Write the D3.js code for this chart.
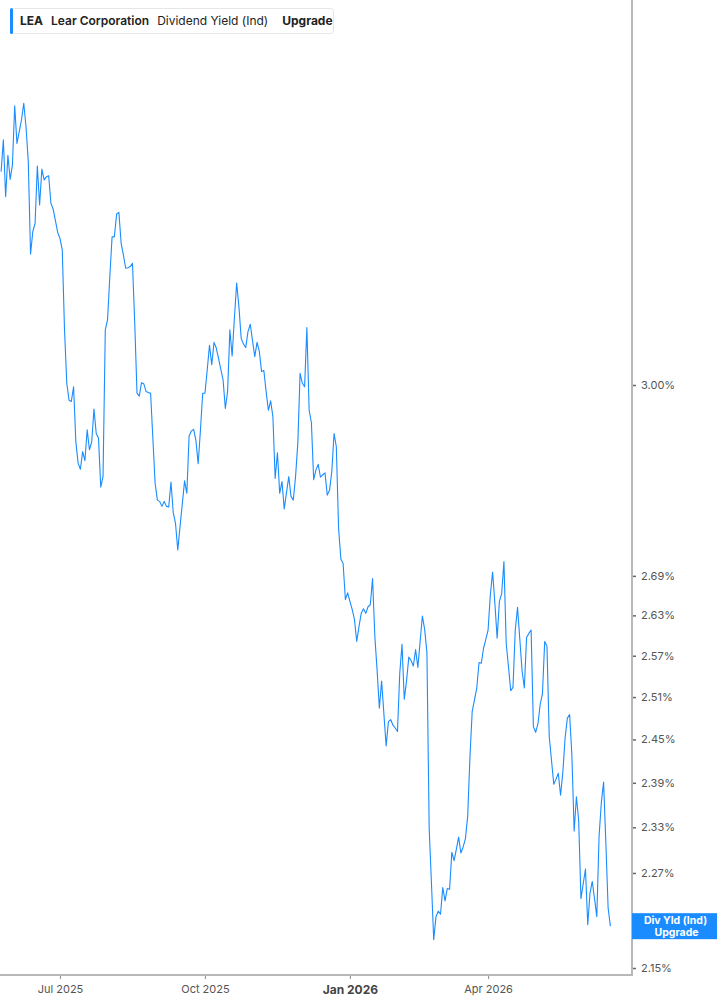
<!DOCTYPE html>
<html lang="en">
  <head>
    <meta charset="UTF-8" />
    <title>LEA Dividend Yield (Ind)</title>
    <script src="https://cdn.jsdelivr.net/npm/d3@7"></script>
    <style>
      html,
      body {
        margin: 0;
        background: #ffffff;
      }
      #chart {
        width: 717px;
        height: 1005px;
      }
      text {
        font-family: Inter, "Noto Sans", sans-serif;
      }
    </style>
  </head>
  <body>
    <div id="chart"></div>
    <script>
      // first trading day shown, and the market holidays skipped in the calendar
      const startDate = "2025-05-22";
      const holidays = [
        "2025-05-26", "2025-06-19", "2025-07-04", "2025-09-01", "2025-11-27",
        "2025-12-25", "2026-01-01", "2026-01-19", "2026-02-16", "2026-04-03",
        "2026-05-25", "2026-06-19",
      ];

      // dividend yield (%), one value per trading day
      const yieldValues = [
        3.389, 3.451, 3.341, 3.421, 3.374, 3.402, 3.519, 3.444, 3.467, 3.491,
        3.524, 3.477, 3.408, 3.233, 3.275, 3.290, 3.400, 3.325, 3.394, 3.373,
        3.379, 3.381, 3.328, 3.317, 3.295, 3.273, 3.262, 3.241, 3.096, 3.003,
        2.974, 2.972, 2.997, 2.904, 2.869, 2.859, 2.888, 2.873, 2.924, 2.891,
        2.904, 2.959, 2.918, 2.910, 2.830, 2.847, 3.096, 3.114, 3.192, 3.265,
        3.265, 3.308, 3.311, 3.253, 3.231, 3.207, 3.208, 3.210, 3.216, 3.108,
        2.986, 2.981, 3.004, 3.002, 2.989, 2.987, 2.986, 2.910, 2.836, 2.809,
        2.807, 2.799, 2.807, 2.799, 2.798, 2.838, 2.789, 2.772, 2.730, 2.767,
        2.803, 2.840, 2.820, 2.914, 2.922, 2.925, 2.907, 2.868, 2.923, 2.986,
        2.986, 3.026, 3.069, 3.035, 3.074, 3.064, 3.046, 3.027, 3.009, 2.960,
        2.989, 3.096, 3.050, 3.117, 3.180, 3.137, 3.081, 3.071, 3.065, 3.093,
        3.106, 3.077, 3.049, 3.074, 3.058, 3.023, 3.025, 2.989, 2.957, 2.973,
        2.946, 2.844, 2.886, 2.820, 2.839, 2.795, 2.821, 2.847, 2.815, 2.809,
        2.847, 2.902, 3.020, 3.003, 2.997, 3.100, 2.957, 2.936, 2.842, 2.858,
        2.867, 2.846, 2.850, 2.853, 2.817, 2.825, 2.855, 2.918, 2.896, 2.764,
        2.716, 2.709, 2.654, 2.664, 2.651, 2.639, 2.624, 2.591, 2.613, 2.633,
        2.640, 2.633, 2.643, 2.646, 2.686, 2.599, 2.549, 2.494, 2.533, 2.486,
        2.441, 2.475, 2.478, 2.470, 2.466, 2.461, 2.544, 2.587, 2.507, 2.533,
        2.568, 2.563, 2.555, 2.579, 2.553, 2.591, 2.629, 2.609, 2.575, 2.328,
        2.257, 2.185, 2.214, 2.221, 2.217, 2.251, 2.234, 2.250, 2.249, 2.297,
        2.286, 2.301, 2.317, 2.296, 2.304, 2.315, 2.345, 2.426, 2.490, 2.506,
        2.523, 2.560, 2.559, 2.581, 2.594, 2.608, 2.661, 2.696, 2.648, 2.596,
        2.651, 2.663, 2.712, 2.588, 2.554, 2.519, 2.524, 2.608, 2.642, 2.595,
        2.548, 2.523, 2.597, 2.603, 2.608, 2.468, 2.460, 2.472, 2.499, 2.515,
        2.591, 2.584, 2.454, 2.421, 2.388, 2.395, 2.403, 2.373, 2.404, 2.452,
        2.480, 2.485, 2.428, 2.325, 2.371, 2.339, 2.237, 2.256, 2.275, 2.204,
        2.244, 2.259, 2.237, 2.214, 2.318, 2.363, 2.391, 2.309, 2.225, 2.202,
      ];

      const yTicks = [3.0, 2.69, 2.63, 2.57, 2.51, 2.45, 2.39, 2.33, 2.27, 2.15];
      const xTickMonths = ["2025-07", "2025-10", "2026-01", "2026-04"];

      const legendParts = [
        { text: "LEA", weight: 700 },
        { text: "Lear Corporation", weight: 600 },
        { text: "Dividend Yield (Ind)", weight: 400 },
        { text: "Upgrade", weight: 700 },
      ];

      const width = 717;
      const height = 1005;
      const axisX = 632;
      const axisY = 975;
      const blue = "#1a8cff";

      // trading-day calendar (weekdays minus holidays)
      const parse = d3.utcParse("%Y-%m-%d");
      const holidaySet = new Set(holidays);
      const fmtDay = d3.utcFormat("%Y-%m-%d");
      const dates = [];
      let day = parse(startDate);
      while (dates.length < yieldValues.length) {
        const wd = day.getUTCDay();
        if (wd !== 0 && wd !== 6 && !holidaySet.has(fmtDay(day))) {
          dates.push(day);
        }
        day = d3.utcDay.offset(day, 1);
      }
      const data = yieldValues.map((v, i) => ({ date: dates[i], value: v, i }));

      const x = d3
        .scaleLinear()
        .domain([0, data.length - 1])
        .range([1.1, 1.1 + (data.length - 1) * 2.265]);

      const y = d3.scaleLog().domain([2.15, 3.0]).range([968, 385]);

      const svg = d3
        .select("#chart")
        .append("svg")
        .attr("width", width)
        .attr("height", height);

      // line
      svg
        .append("path")
        .datum(data)
        .attr("fill", "none")
        .attr("stroke", blue)
        .attr("stroke-width", 1.1)
        .attr("stroke-linejoin", "round")
        .attr(
          "d",
          d3
            .line()
            .x((d) => x(d.i))
            .y((d) => y(d.value))
        );

      // right axis
      const yAxis = d3
        .axisRight(y)
        .tickValues(yTicks)
        .tickSize(4)
        .tickPadding(5)
        .tickFormat((d) => d3.format(".2f")(d) + "%");

      const gy = svg
        .append("g")
        .attr("transform", `translate(${axisX},0)`)
        .call(yAxis);
      gy.select(".domain").remove();
      gy.selectAll(".tick line").attr("stroke", "#666").attr("stroke-width", 1.5);
      gy.selectAll(".tick text")
        .attr("fill", "#555")
        .attr("font-size", 11)
        .style("font-family", "Inter, sans-serif");

      // bottom axis
      const monthFmt = d3.utcFormat("%Y-%m");
      const xTickIdx = xTickMonths.map((m) =>
        data.findIndex((d) => monthFmt(d.date) === m)
      );
      const xAxis = d3
        .axisBottom(x)
        .tickValues(xTickIdx)
        .tickSize(4)
        .tickPadding(6)
        .tickFormat((i) => d3.utcFormat("%b %Y")(data[i].date));

      const gx = svg
        .append("g")
        .attr("transform", `translate(0,${axisY})`)
        .call(xAxis);
      gx.select(".domain").remove();
      gx.selectAll(".tick line").attr("stroke", "#999").attr("stroke-width", 1.2);
      gx.selectAll(".tick text")
        .attr("fill", "#555")
        .attr("font-size", 11)
        .style("font-family", "Inter, sans-serif")
        .each(function (i) {
          if (data[i].date.getUTCMonth() === 0) {
            d3.select(this)
              .attr("font-size", 12)
              .attr("font-weight", 700)
              .attr("fill", "#444");
          }
        });

      // axis frame lines
      svg
        .append("line")
        .attr("x1", axisX)
        .attr("x2", axisX)
        .attr("y1", 0)
        .attr("y2", axisY)
        .attr("stroke", "#b8b8b8")
        .attr("stroke-width", 2);
      svg
        .append("line")
        .attr("x1", 0)
        .attr("x2", axisX + 1)
        .attr("y1", axisY)
        .attr("y2", axisY)
        .attr("stroke", "#b8b8b8")
        .attr("stroke-width", 2);

      // last value tag
      const last = data[data.length - 1];
      const ty = y(last.value);
      const tag = svg.append("g").attr("transform", `translate(${axisX},${ty})`);
      tag
        .append("rect")
        .attr("x", 0)
        .attr("y", -13)
        .attr("width", width - axisX)
        .attr("height", 26)
        .attr("fill", blue);
      tag
        .append("text")
        .attr("x", (width - axisX) / 2 + 1)
        .attr("y", -2)
        .attr("text-anchor", "middle")
        .attr("fill", "#fff")
        .attr("font-size", 10.5)
        .attr("font-weight", 700)
        .text("Div Yld (Ind)");
      tag
        .append("text")
        .attr("x", (width - axisX) / 2 + 2)
        .attr("y", 9.5)
        .attr("text-anchor", "middle")
        .attr("fill", "#fff")
        .attr("font-size", 10.5)
        .attr("font-weight", 700)
        .text("Upgrade");

      // legend
      const legend = svg.append("g").attr("transform", "translate(10,8)");
      legend
        .append("rect")
        .attr("x", 0.5)
        .attr("y", 0.5)
        .attr("width", 323)
        .attr("height", 25)
        .attr("rx", 3)
        .attr("fill", "#fff")
        .attr("stroke", "#e6e6e6");
      legend
        .append("rect")
        .attr("x", 0)
        .attr("y", 0)
        .attr("width", 3)
        .attr("height", 26)
        .attr("rx", 1.5)
        .attr("fill", blue);

      const legendText = legend
        .append("text")
        .attr("x", 10)
        .attr("y", 17)
        .attr("font-size", 12)
        .attr("fill", "#222");
      legendParts.forEach((p, k) => {
        legendText
          .append("tspan")
          .attr("dx", k === 0 ? 0 : k === 3 ? 14 : 8)
          .attr("font-weight", p.weight)
          .text(p.text);
      });
    </script>
  </body>
</html>
